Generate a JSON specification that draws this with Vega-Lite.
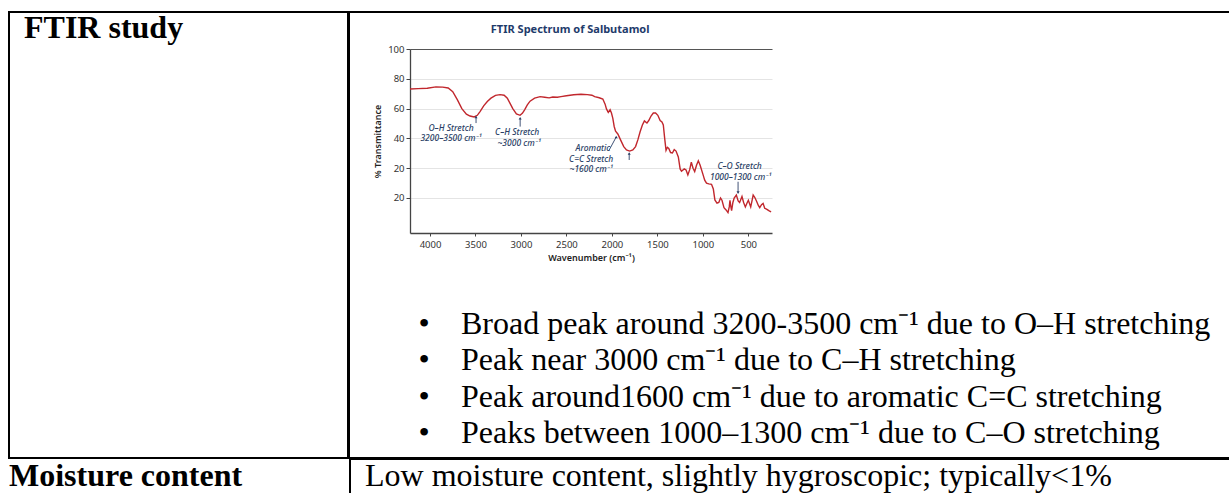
{
  "$schema": "https://vega.github.io/schema/vega-lite/v6.json",
  "background": "white",
  "padding": {"left": 8, "top": 11, "right": -12, "bottom": -6},
  "spacing": -2,
  "config": {
    "view": {"stroke": "black", "strokeWidth": 2},
    "concat": {"spacing": -2}
  },
  "vconcat": [
    {
      "spacing": -2,
      "hconcat": [
        {
          "width": 339,
          "height": 446,
          "data": {"values": [{"label": "FTIR study"}]},
          "mark": {"type": "text", "align": "left", "baseline": "alphabetic", "font": "Liberation Serif", "fontSize": 32, "fontWeight": "bold", "color": "black"},
          "encoding": {"text": {"field": "label"}, "x": {"value": 15}, "y": {"value": 26}}
        },
        {
          "width": 890,
          "height": 446,
          "resolve": {"scale": {"y": "independent"}},
          "layer": [
            {
              "layer": [
                {
                  "data": {"values": [
                    {"w":4220,"t":73.2},{"w":4130,"t":73.4},{"w":4030,"t":73.7},{"w":3935,"t":74.6},{"w":3860,"t":74.4},{"w":3800,"t":73.8},{"w":3750,"t":71.3},{"w":3700,"t":66},{"w":3650,"t":60},{"w":3600,"t":56.3},{"w":3560,"t":55},{"w":3515,"t":54.4},{"w":3480,"t":55.5},{"w":3450,"t":58},{"w":3410,"t":61.8},{"w":3370,"t":64.8},{"w":3330,"t":67},{"w":3280,"t":68.9},{"w":3230,"t":69.4},{"w":3185,"t":69},{"w":3150,"t":67},{"w":3120,"t":63.5},{"w":3090,"t":60},{"w":3050,"t":56.5},{"w":3010,"t":55.5},{"w":2985,"t":56.8},{"w":2960,"t":59.2},{"w":2930,"t":62.5},{"w":2900,"t":65},{"w":2850,"t":67},{"w":2790,"t":68},{"w":2740,"t":67.6},{"w":2690,"t":67.2},{"w":2650,"t":67.8},{"w":2600,"t":67.6},{"w":2560,"t":68},{"w":2500,"t":68.6},{"w":2420,"t":69.3},{"w":2340,"t":69.6},{"w":2270,"t":69.4},{"w":2220,"t":69},{"w":2190,"t":68},{"w":2140,"t":67.3},{"w":2100,"t":66.4},{"w":2075,"t":63},{"w":2060,"t":59.8},{"w":2040,"t":57.5},{"w":2020,"t":59.2},{"w":2005,"t":57},{"w":1990,"t":53.5},{"w":1975,"t":48},{"w":1960,"t":44.8},{"w":1935,"t":43},{"w":1905,"t":39},{"w":1870,"t":34.5},{"w":1840,"t":32.3},{"w":1805,"t":31.5},{"w":1770,"t":32.3},{"w":1740,"t":34.5},{"w":1715,"t":39},{"w":1690,"t":44.5},{"w":1665,"t":49},{"w":1643,"t":51.7},{"w":1615,"t":50.3},{"w":1595,"t":52},{"w":1570,"t":55},{"w":1545,"t":57},{"w":1520,"t":57},{"w":1495,"t":55.5},{"w":1470,"t":52},{"w":1450,"t":51},{"w":1435,"t":49},{"w":1420,"t":40},{"w":1405,"t":32},{"w":1390,"t":34},{"w":1375,"t":33.2},{"w":1355,"t":30.5},{"w":1335,"t":30.2},{"w":1315,"t":32.5},{"w":1295,"t":31.5},{"w":1270,"t":27.5},{"w":1250,"t":19.5},{"w":1235,"t":18},{"w":1205,"t":19.5},{"w":1185,"t":18.8},{"w":1165,"t":15.5},{"w":1145,"t":19},{"w":1127,"t":24},{"w":1108,"t":20},{"w":1090,"t":17.7},{"w":1070,"t":22},{"w":1050,"t":25},{"w":1030,"t":22},{"w":1000,"t":16},{"w":980,"t":12},{"w":960,"t":10},{"w":935,"t":9.5},{"w":905,"t":9.2},{"w":885,"t":6},{"w":868,"t":-1.3},{"w":845,"t":-3.5},{"w":825,"t":-3},{"w":806,"t":0},{"w":790,"t":-1.5},{"w":768,"t":-6.5},{"w":745,"t":-8},{"w":724,"t":-9.8},{"w":710,"t":-6},{"w":702,"t":-1.5},{"w":692,"t":-6},{"w":684,"t":-8.5},{"w":670,"t":-3},{"w":656,"t":0},{"w":632,"t":2},{"w":612,"t":-2},{"w":596,"t":-3},{"w":570,"t":1},{"w":552,"t":-3},{"w":533,"t":-6},{"w":512,"t":-3},{"w":500,"t":-1.5},{"w":474,"t":-6},{"w":460,"t":-2},{"w":447,"t":2},{"w":430,"t":0.5},{"w":412,"t":-1.8},{"w":390,"t":-5},{"w":375,"t":-6.5},{"w":355,"t":-4.5},{"w":338,"t":-3.6},{"w":320,"t":-6.9},{"w":300,"t":-7.5},{"w":275,"t":-8.5},{"w":250,"t":-9.3}
                  ]},
                  "mark": {"type": "line", "color": "#c1272d", "strokeWidth": 1.4},
                  "encoding": {
                    "x": {
                      "field": "w", "type": "quantitative",
                      "scale": {"domain": [240, 4220], "reverse": true, "range": [61, 423], "nice": false, "zero": false},
                      "axis": {
                        "values": [4000, 3500, 3000, 2500, 2000, 1500, 1000, 500],
                        "format": "d",
                        "offset": -225, "grid": false,
                        "title": "Wavenumber (cm⁻¹)", "titleFont": "Noto Sans", "titleFontSize": 9, "titleFontWeight": 600, "titleColor": "#222", "titlePadding": 5,
                        "labelFont": "Noto Sans", "labelFontSize": 9.5, "labelColor": "#333", "labelPadding": 3,
                        "tickSize": 3, "tickColor": "#444", "domainColor": "#444", "domainWidth": 1.3
                      }
                    },
                    "y": {
                      "field": "t", "type": "quantitative",
                      "scale": {"domain": [-23.5, 100], "range": [221, 37], "nice": false, "zero": false},
                      "axis": {
                        "values": [0, 20, 40, 60, 80, 100],
                        "labelExpr": "datum.value === 0 ? '20' : datum.label",
                        "offset": -61, "grid": true,
                        "gridColor": {"condition": {"test": "datum.value === 100", "value": "#555555"}, "value": "#e4e4e4"},
                        "gridWidth": 1,
                        "title": "% Transmittance", "titleFont": "Noto Sans", "titleFontSize": 9, "titleFontWeight": 600, "titleColor": "#222", "titlePadding": 5,
                        "labelFont": "Noto Sans", "labelFontSize": 9.5, "labelColor": "#333", "labelPadding": 2,
                        "tickSize": 4, "tickColor": "#444", "domainColor": "#444", "domainWidth": 1.3
                      }
                    }
                  }
                },
                {
                  "data": {"values": [{"w": 2459, "t": 112.8, "label": "FTIR Spectrum of Salbutamol"}]},
                  "mark": {"type": "text", "font": "Noto Sans", "fontSize": 11, "fontWeight": "bold", "color": "#1f3b6b", "baseline": "middle"},
                  "encoding": {"x": {"field": "w", "type": "quantitative"}, "y": {"field": "t", "type": "quantitative"}, "text": {"field": "label"}}
                },
                {
                  "data": {"values": [
                    {"w": 3769, "t": 47.2, "label": "O–H Stretch"},
                    {"w": 3769, "t": 40.5, "label": "3200–3500 cm⁻¹"},
                    {"w": 3042, "t": 44.1, "label": "C–H Stretch"},
                    {"w": 3020, "t": 37.1, "label": "~3000 cm⁻¹"},
                    {"w": 2209, "t": 33.4, "label": "Aromatic"},
                    {"w": 2228, "t": 26.0, "label": "C=C Stretch"},
                    {"w": 2228, "t": 19.3, "label": "~1600 cm⁻¹"},
                    {"w": 596, "t": 21.5, "label": "C–O Stretch"},
                    {"w": 585, "t": 14.3, "label": "1000–1300 cm⁻¹"}
                  ]},
                  "mark": {"type": "text", "font": "Noto Sans", "fontSize": 8.5, "fontStyle": "italic", "fontWeight": 500, "color": "#2b3f66", "baseline": "middle"},
                  "encoding": {"x": {"field": "w", "type": "quantitative"}, "y": {"field": "t", "type": "quantitative"}, "text": {"field": "label"}}
                },
                {
                  "data": {"values": [
                    {"w": 3494, "t": 50.3, "w2": 3494, "t2": 54.4},
                    {"w": 3009, "t": 47.9, "w2": 3009, "t2": 53.5},
                    {"w": 2030, "t": 32.2, "w2": 1953, "t2": 40.9},
                    {"w": 1810, "t": 25.5, "w2": 1810, "t2": 29.9},
                    {"w": 613, "t": 10.9, "w2": 613, "t2": 3.6}
                  ]},
                  "layer": [
                    {
                      "mark": {"type": "rule", "color": "#2b3f66", "strokeWidth": 0.9},
                      "encoding": {"x": {"field": "w", "type": "quantitative"}, "y": {"field": "t", "type": "quantitative"}, "x2": {"field": "w2"}, "y2": {"field": "t2"}}
                    },
                    {
                      "transform": [{"filter": "datum.t2 > datum.t"}],
                      "mark": {"type": "point", "shape": "triangle-up", "filled": true, "color": "#2b3f66", "size": 9, "opacity": 1},
                      "encoding": {"x": {"field": "w2", "type": "quantitative"}, "y": {"field": "t2", "type": "quantitative"}}
                    },
                    {
                      "transform": [{"filter": "datum.t2 < datum.t"}],
                      "mark": {"type": "point", "shape": "triangle-down", "filled": true, "color": "#2b3f66", "size": 9, "opacity": 1},
                      "encoding": {"x": {"field": "w2", "type": "quantitative"}, "y": {"field": "t2", "type": "quantitative"}}
                    }
                  ]
                }
              ]
            },
            {
              "data": {"values": [
                {"n": 1, "text": "Broad peak around 3200-3500 cm⁻¹ due to O–H stretching"},
                {"n": 2, "text": "Peak near 3000 cm⁻¹ due to C–H stretching"},
                {"n": 3, "text": "Peak around1600 cm⁻¹ due to aromatic C=C stretching"},
                {"n": 4, "text": "Peaks between 1000–1300 cm⁻¹ due to C–O stretching"}
              ]},
              "encoding": {
                "y": {"field": "n", "type": "ordinal", "axis": null, "scale": {"type": "point", "range": [312, 421], "padding": 0}}
              },
              "layer": [
                {
                  "mark": {"type": "text", "text": "•", "align": "center", "baseline": "middle", "font": "Liberation Serif", "fontSize": 32, "color": "black"},
                  "encoding": {"x": {"value": 75}}
                },
                {
                  "mark": {"type": "text", "align": "left", "baseline": "middle", "font": "Liberation Serif", "fontSize": 32, "color": "black"},
                  "encoding": {"x": {"value": 112}, "text": {"field": "text"}}
                }
              ]
            }
          ]
        }
      ]
    },
    {
      "spacing": -2,
      "hconcat": [
        {
          "width": 341,
          "height": 40,
          "view": {"stroke": null},
          "data": {"values": [{"label": "Moisture content"}]},
          "mark": {"type": "text", "align": "left", "baseline": "alphabetic", "font": "Liberation Serif", "fontSize": 32, "fontWeight": "bold", "color": "black"},
          "encoding": {"text": {"field": "label"}, "x": {"value": 0}, "y": {"value": 27}}
        },
        {
          "width": 890,
          "height": 40,
          "data": {"values": [{"label": "Low moisture content, slightly hygroscopic; typically<1%"}]},
          "mark": {"type": "text", "align": "left", "baseline": "alphabetic", "font": "Liberation Serif", "fontSize": 32, "color": "black"},
          "encoding": {"text": {"field": "label"}, "x": {"value": 15}, "y": {"value": 27}}
        }
      ]
    }
  ]
}
